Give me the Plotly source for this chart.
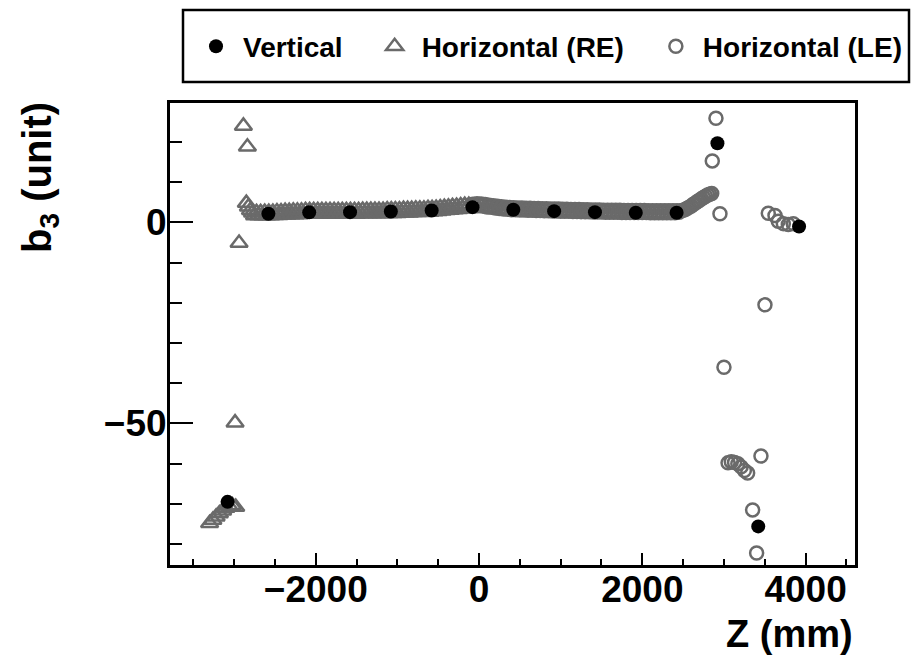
import plotly.graph_objects as go

# ---------------- data ----------------
# Vertical measurement (black dots)
vert_z = [-3080, -2580, -2080, -1580, -1080, -580, -80, 420, 920, 1420, 1920, 2420, 2920, 3420, 3920]
vert_b3 = [-69.5, 2.15, 2.5, 2.55, 2.7, 2.97, 3.8, 3.15, 2.8, 2.55, 2.4, 2.4, 19.7, -75.6, -1.0]

# Horizontal (RE): isolated points near the left end
re_end_z = [-3300, -3260, -3220, -3180, -3140, -3100, -3060, -3020, -2980,
            -2988, -2939, -2886, -2837]
re_end_b3 = [-74.8, -74.0, -73.2, -72.4, -71.7, -71.0, -70.6, -70.4, -70.8,
             -49.8, -5.1, 24.0, 18.8]
# Horizontal (RE): dense scan along the straight section
re_band_z = [-2850, -2825, -2800, -2775, -2750, -2725, -2700, -2675, -2650, -2625,
             -2600, -2575, -2550, -2525, -2500, -2475, -2450, -2425, -2400, -2375,
             -2350, -2325, -2300, -2275, -2250, -2225, -2200, -2175, -2150, -2125,
             -2100, -2075, -2050, -2025, -2000, -1975, -1950, -1925, -1900, -1875,
             -1850, -1825, -1800, -1775, -1750, -1725, -1700, -1675, -1650, -1625,
             -1600, -1575, -1550, -1525, -1500, -1475, -1450, -1425, -1400, -1375,
             -1350, -1325, -1300, -1275, -1250, -1225, -1200, -1175, -1150, -1125,
             -1100, -1075, -1050, -1025, -1000, -975, -950, -925, -900, -875,
             -850, -825, -800, -775, -750, -725, -700, -675, -650, -625,
             -600, -575, -550, -525, -500, -475, -450, -425, -400, -375,
             -350, -325, -300, -275, -250, -225, -200, -175, -150, -125,
             -100]
re_band_b3 = [4.8, 3.9, 3.0, 2.4, 1.7, 2.5, 1.7, 2.5, 1.7, 2.6,
              1.7, 2.6, 1.7, 2.6, 1.8, 2.7, 1.8, 2.7, 1.9, 2.8,
              1.9, 2.8, 2.0, 2.9, 2.0, 2.9, 2.0, 2.9, 2.1, 3.0,
              2.1, 3.0, 2.1, 3.0, 2.1, 3.0, 2.1, 3.0, 2.1, 3.0,
              2.1, 3.0, 2.1, 3.0, 2.1, 3.0, 2.1, 3.0, 2.1, 3.0,
              2.1, 3.0, 2.1, 3.0, 2.1, 3.0, 2.2, 3.1, 2.2, 3.1,
              2.2, 3.1, 2.2, 3.1, 2.2, 3.1, 2.2, 3.1, 2.3, 3.2,
              2.3, 3.2, 2.3, 3.2, 2.3, 3.2, 2.4, 3.3, 2.4, 3.3,
              2.4, 3.3, 2.5, 3.4, 2.5, 3.4, 2.5, 3.4, 2.6, 3.5,
              2.6, 3.5, 2.7, 3.6, 2.8, 3.7, 2.9, 3.8, 3.0, 3.9,
              3.1, 4.0, 3.2, 4.1, 3.3, 4.2, 3.4, 4.3, 3.5, 4.3,
              3.6]

# Horizontal (LE): dense scan along the straight section
le_band_z = [-75, -50, -25, 0, 25, 50, 75, 100, 125, 150,
             175, 200, 225, 250, 275, 300, 325, 350, 375, 400,
             425, 450, 475, 500, 525, 550, 575, 600, 625, 650,
             675, 700, 725, 750, 775, 800, 825, 850, 875, 900,
             925, 950, 975, 1000, 1025, 1050, 1075, 1100, 1125, 1150,
             1175, 1200, 1225, 1250, 1275, 1300, 1325, 1350, 1375, 1400,
             1425, 1450, 1475, 1500, 1525, 1550, 1575, 1600, 1625, 1650,
             1675, 1700, 1725, 1750, 1775, 1800, 1825, 1850, 1875, 1900,
             1925, 1950, 1975, 2000, 2025, 2050, 2075, 2100, 2125, 2150,
             2175, 2200, 2225, 2250, 2275, 2300, 2325, 2350, 2375, 2400,
             2425, 2450, 2475, 2500, 2525, 2550, 2575, 2600, 2625, 2650,
             2675, 2700, 2725, 2750, 2775, 2800, 2825, 2850]
le_band_b3 = [4.55, 4.1, 4.65, 4.15, 4.6, 4.05, 4.45, 3.85, 4.3, 3.75,
              4.15, 3.6, 4.05, 3.45, 3.9, 3.35, 3.8, 3.25, 3.7, 3.15,
              3.64, 3.13, 3.61, 3.1, 3.58, 3.07, 3.55, 3.03, 3.52, 3.0,
              3.49, 2.97, 3.45, 2.94, 3.42, 2.91, 3.39, 2.88, 3.36, 2.85,
              3.34, 2.83, 3.31, 2.8, 3.29, 2.78, 3.26, 2.75, 3.24, 2.72,
              3.21, 2.7, 3.19, 2.68, 3.16, 2.65, 3.14, 2.63, 3.11, 2.6,
              3.09, 2.59, 3.07, 2.57, 3.05, 2.55, 3.04, 2.54, 3.03, 2.52,
              3.01, 2.51, 3.0, 2.49, 2.98, 2.48, 2.97, 2.46, 2.95, 2.45,
              2.95, 2.45, 2.94, 2.44, 2.94, 2.44, 2.93, 2.43, 2.93, 2.43,
              2.92, 2.42, 2.92, 2.42, 2.91, 2.41, 2.91, 2.41, 2.9, 2.4,
              2.9, 2.5, 2.9, 3.0, 3.2, 3.5, 3.8, 4.1, 4.5, 4.8,
              5.2, 5.5, 5.9, 6.2, 6.5, 6.8, 7.0, 7.2]
# Horizontal (LE): isolated points near the right end
le_end_z = [2857, 2902, 2951, 3000,
            3050, 3090, 3130, 3170, 3210, 3250, 3290,
            3453, 3502, 3351, 3400,
            3543, 3625, 3665, 3727, 3788, 3849]
le_end_b3 = [15.3, 25.9, 2.15, -36.0,
             -59.8, -59.5, -59.7, -60.0, -60.8, -61.7, -62.3,
             -58.1, -20.5, -71.5, -82.2,
             2.3, 1.7, 0.3, -0.3, -0.5, -0.3]

x_tickvals = [-2000, 0, 2000, 4000]
y_tickvals = [-50, 0]

# ---------------- figure ----------------
W, H = 912, 655
L, R, T, B = 170, 57, 103, 90
pw, ph = W - L - R, H - T - B


def px_x(p):
    return (p - L) / pw


def px_y(p):
    return (H - B - p) / ph


GRAY = "#6a6a6a"
FONT = "Liberation Sans, Arial, Helvetica, sans-serif"

fig = go.Figure()
fig.add_trace(go.Scatter(
    x=re_end_z + re_band_z, y=re_end_b3 + re_band_b3, mode="markers",
    name="Horizontal (RE)", legendrank=2,
    marker=dict(symbol="triangle-up-open", size=15, color=GRAY, line=dict(width=2.5, color=GRAY)),
))
fig.add_trace(go.Scatter(
    x=le_band_z + le_end_z, y=le_band_b3 + le_end_b3, mode="markers",
    name="Horizontal (LE)", legendrank=3,
    marker=dict(symbol="circle-open", size=13, color=GRAY, line=dict(width=2.5, color=GRAY)),
))
fig.add_trace(go.Scatter(
    x=vert_z, y=vert_b3, mode="markers", name="Vertical", legendrank=1,
    marker=dict(symbol="circle", size=14, color="black"),
))

fig.update_layout(
    width=W, height=H,
    margin=dict(l=L, r=R, t=T, b=B, autoexpand=False),
    paper_bgcolor="white", plot_bgcolor="white",
    font=dict(family=FONT, color="black"),
    showlegend=True,
    legend=dict(
        orientation="h", x=px_x(169), xanchor="left", y=px_y(46.5), yanchor="middle",
        indentation=20,
        font=dict(family=FONT, size=28, weight="bold", color="black"),
        itemwidth=44, bgcolor="rgba(0,0,0,0)", borderwidth=0,
    ),
    xaxis=dict(
        range=[-3785, 4605], tickvals=x_tickvals, ticks="inside", ticklen=12, tickwidth=2,
        tickcolor="black", showline=True, linewidth=3, linecolor="black", mirror=True,
        showgrid=False, zeroline=False, ticklabelstandoff=-10,
        tickfont=dict(family=FONT, size=37, weight="bold", color="black"),
        minor=dict(ticks="inside", dtick=500, tick0=0, ticklen=6, tickwidth=2, tickcolor="black", showgrid=False),
    ),
    yaxis=dict(
        range=[-85.2, 29.7], tickvals=y_tickvals, ticks="inside", ticklen=23, tickwidth=2,
        tickcolor="black", showline=True, linewidth=3, linecolor="black", mirror=True,
        showgrid=False, zeroline=False, ticklabelstandoff=-7,
        tickfont=dict(family=FONT, size=37, weight="bold", color="black"),
        minor=dict(ticks="inside", dtick=10, tick0=0, ticklen=12, tickwidth=2, tickcolor="black", showgrid=False),
    ),
    shapes=[dict(type="rect", xref="paper", yref="paper",
                 x0=px_x(183), x1=px_x(909), y0=px_y(82), y1=px_y(10),
                 line=dict(color="black", width=2.5), fillcolor="rgba(0,0,0,0)")],
    annotations=[
        dict(text="Z (mm)", xref="paper", yref="paper", x=1, xanchor="right",
             y=px_y(634), yanchor="middle", showarrow=False,
             font=dict(family=FONT, size=38, weight="bold", color="black")),
        dict(text="b<sub>3</sub> (unit)", xref="paper", yref="paper", x=px_x(40), xanchor="center",
             y=px_y(178), yanchor="middle", textangle=-90, showarrow=False,
             font=dict(family=FONT, size=40, weight="bold", color="black")),
    ],
)

fig.write_html("out.html")
